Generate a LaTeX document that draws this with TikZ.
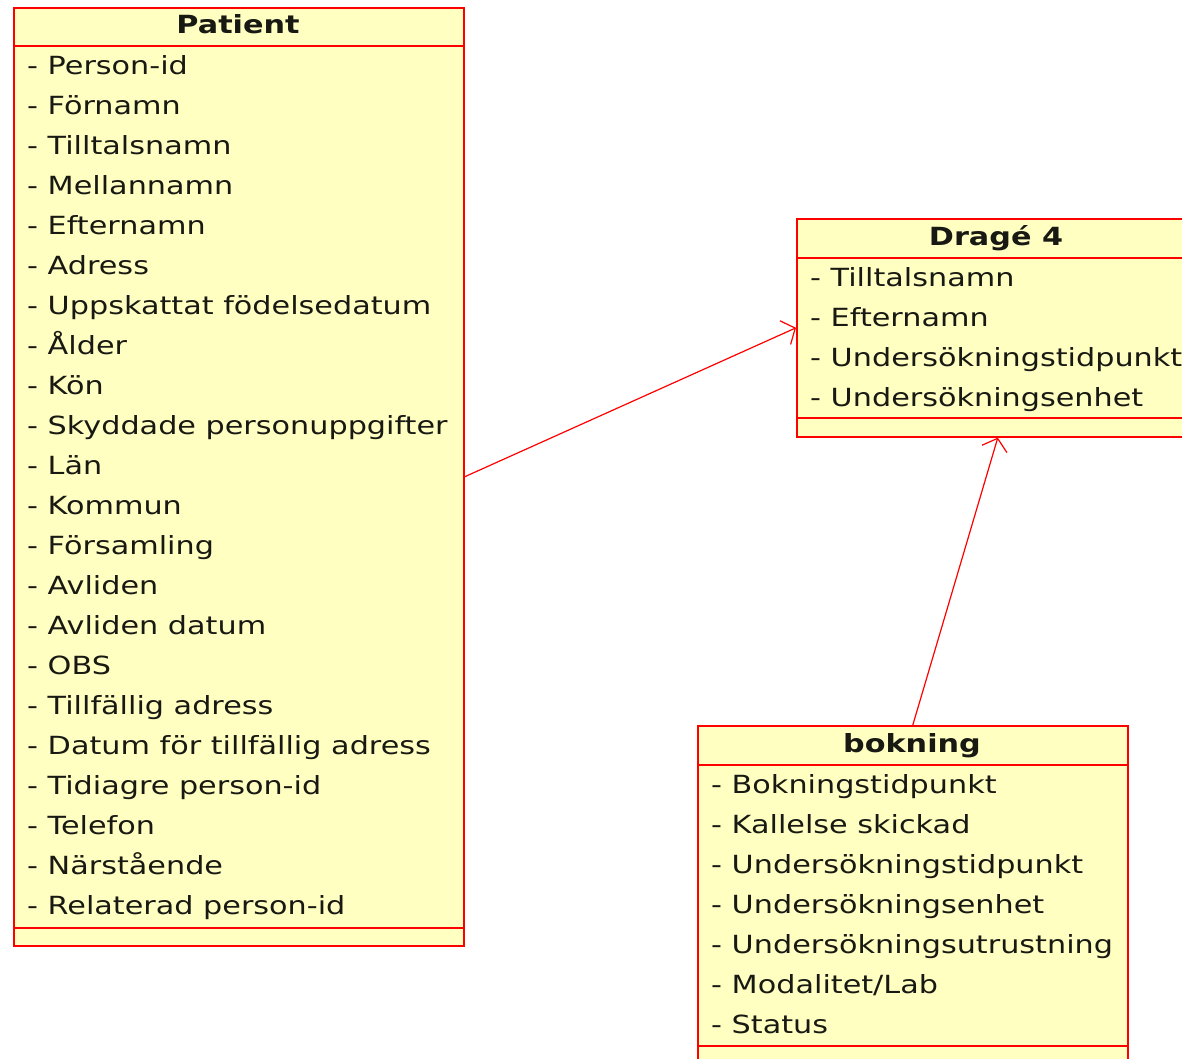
\documentclass[tikz,border=0pt]{standalone}
\usepackage{fontspec}
\setmainfont{DejaVu Sans}[FakeStretch=1.21]
\usetikzlibrary{arrows.meta}
\definecolor{umlfill}{RGB}{255,255,194}
\definecolor{umlred}{RGB}{255,0,0}
\definecolor{umltext}{RGB}{25,25,20}
\tikzset{
  classbox/.style={draw=umlred, fill=umlfill, line width=1.6pt, anchor=north west, inner sep=0pt},
  sepline/.style={draw=umlred, line width=1.6pt},
  ctitle/.style={font=\fontsize{25}{30}\selectfont\bfseries, text=umltext, anchor=base, inner sep=0pt},
  attr/.style={font=\fontsize{25}{30}\selectfont, text=umltext, anchor=base west, inner sep=0pt},
  assoc/.style={draw=umlred, line width=1.2pt, -{Straight Barb[length=11pt,width=26pt,line width=1.2pt]}}
}
\begin{document}
\begin{tikzpicture}[x=1pt,y=-1pt]
\useasboundingbox (0,0) rectangle (1182,1058);
\clip (0,0) rectangle (1182,1058);
% Patient
\node[classbox, minimum width=450pt, minimum height=938pt] (patient) at (13,7) {};
\draw[sepline] (13,46) -- (463,46);
\draw[sepline] (13,928) -- (463,928);
\node[ctitle] (ptitle) at (238,33) {Patient};
\foreach \t [count=\i from 0] in {Person-id,Förnamn,Tilltalsnamn,Mellannamn,Efternamn,Adress,Uppskattat födelsedatum,Ålder,Kön,Skyddade personuppgifter,Län,Kommun,Församling,Avliden,Avliden datum,OBS,Tillfällig adress,Datum för tillfällig adress,Tidiagre person-id,Telefon,Närstående,Relaterad person-id}
  \node[attr] (pa\i) at (27,{74+40*\i}) {- \t};
% Dragé 4
\node[classbox, minimum width=402pt, minimum height=218pt] (drage) at (796,218) {};
\draw[sepline] (796,258) -- (1198,258);
\draw[sepline] (796,418) -- (1198,418);
\node[ctitle] (dtitle) at (996,245) {Dragé 4};
\foreach \t [count=\i from 0] in {Tilltalsnamn,Efternamn,Undersökningstidpunkt,Undersökningsenhet}
  \node[attr] (da\i) at (810,{286+40*\i}) {- \t};
% bokning
\node[classbox, minimum width=430pt, minimum height=340pt] (bokning) at (697,725) {};
\draw[sepline] (697,765) -- (1127,765);
\draw[sepline] (697,1046) -- (1127,1046);
\node[ctitle] (btitle) at (912,752) {bokning};
\foreach \t [count=\i from 0] in {Bokningstidpunkt,Kallelse skickad,Undersökningstidpunkt,Undersökningsenhet,Undersökningsutrustning,Modalitet/Lab,Status}
  \node[attr] (ba\i) at (711,{793+40*\i}) {- \t};
% associations
\draw[assoc] (patient.east) -- (drage.west);
\draw[assoc] (bokning.north) -- (drage.south);
\end{tikzpicture}
\end{document}
